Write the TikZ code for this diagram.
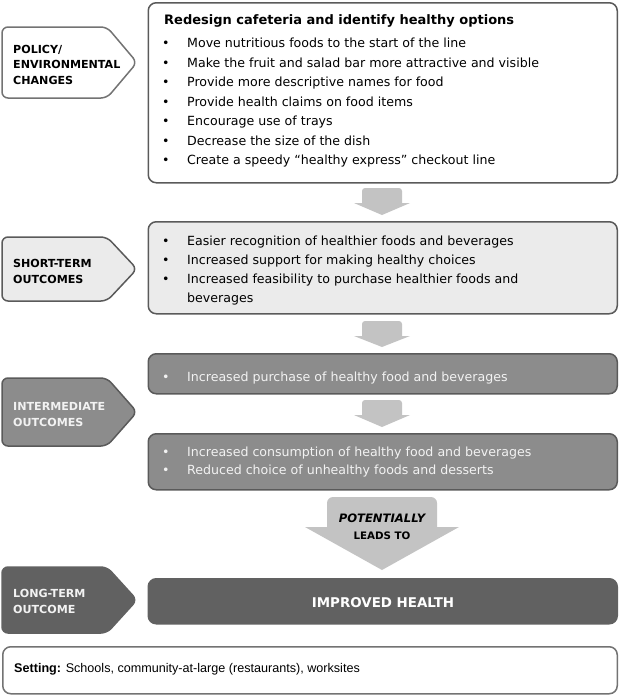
\documentclass[tikz,border=0pt]{standalone}
\usepackage{fontspec}
\setmainfont{DejaVu Sans}
\newfontfamily\arialfont{Liberation Sans}
\definecolor{bordergray}{HTML}{5A5A5A}
\definecolor{lightfill}{HTML}{EBEBEB}
\definecolor{midfill}{HTML}{8C8C8C}
\definecolor{darkfill}{HTML}{616161}
\definecolor{arrowgray}{HTML}{C3C3C3}
\definecolor{lighttext}{HTML}{F2F2F2}
\begin{document}
\begin{tikzpicture}[x=1pt,y=-1pt,
  frame/.style={draw=bordergray, line width=1.5pt, rounded corners=8pt, minimum width=469pt, anchor=north west, inner sep=0pt},
  tag/.style={draw=bordergray, line width=1.5pt, rounded corners=6pt},
  tagtext/.style={anchor=base west, inner sep=0pt, font=\fontsize{11.1}{13}\selectfont\bfseries},
  item/.style={anchor=base west, inner sep=0pt, font=\fontsize{12.6}{15}\selectfont},
  bul/.style={anchor=base west, inner sep=0pt, font=\fontsize{12.6}{15}\selectfont},
  arrowfill/.style={fill=arrowgray}]
\useasboundingbox (0,0) rectangle (620,696);

% ---------- boxes ----------
\node[frame, fill=white, minimum height=180pt] (box1) at (147.5,2) {};
\node[frame, fill=lightfill, minimum height=92pt] (box2) at (147.5,221) {};
\node[frame, fill=midfill, minimum height=40pt] (box3) at (147.5,353) {};
\node[frame, fill=midfill, minimum height=56pt] (box4) at (147.5,433) {};
\node[frame, fill=darkfill, draw=darkfill, minimum height=45pt] (box5) at (147.5,578) {};
\node[frame, draw=bordergray!85, fill=white, minimum width=614.5pt, minimum height=47pt] (setting) at (2,646) {};

% ---------- left tags ----------
\draw[tag, fill=white, draw=bordergray!85] (2,27) -- (107,27) -- (137,62.5) -- (107,98) -- (2,98) -- cycle;
\draw[tag, fill=lightfill] (2,237) -- (107,237) -- (137,269) -- (107,301) -- (2,301) -- cycle;
\draw[tag, fill=midfill] (2,378) -- (107,378) -- (137,412) -- (107,446) -- (2,446) -- cycle;
\draw[tag, fill=darkfill, draw=darkfill] (2,567) -- (107,567) -- (137,600) -- (107,633) -- (2,633) -- cycle;

\node[tagtext] (t1a) at (13,53) {POLICY/};
\node[tagtext] (t1b) at (13,68.5) {ENVIRONMENTAL};
\node[tagtext] (t1c) at (13,84) {CHANGES};
\node[tagtext] (t2a) at (13,267) {SHORT-TERM};
\node[tagtext] (t2b) at (13,283) {OUTCOMES};
\node[tagtext, text=lighttext] (t3a) at (13,410) {INTERMEDIATE};
\node[tagtext, text=lighttext] (t3b) at (13,426) {OUTCOMES};
\node[tagtext, text=lighttext] (t4a) at (13,597) {LONG-TERM};
\node[tagtext, text=lighttext] (t4b) at (13,613) {OUTCOME};

% ---------- arrows ----------
\fill[arrowfill] (362,203) [rounded corners=3pt]-- (362,188) -- (402,188) [sharp corners]-- (402,203) -- (410,203) -- (382,215) -- (354,203) -- cycle;
\fill[arrowfill] (362,336) [rounded corners=3pt]-- (362,321) -- (402,321) [sharp corners]-- (402,336) -- (410,336) -- (382,347) -- (354,336) -- cycle;
\fill[arrowfill] (362,415) [rounded corners=3pt]-- (362,400) -- (402,400) [sharp corners]-- (402,415) -- (410,415) -- (382,427) -- (354,415) -- cycle;
\fill[arrowfill] (327,527) [rounded corners=6pt]-- (327,497) -- (437,497) [sharp corners]-- (437,527) -- (459,527) -- (382,570) -- (305,527) -- cycle;
\node[inner sep=0pt, anchor=base, font=\fontsize{11.6}{13}\selectfont\bfseries\itshape] (pot) at (382,522) {POTENTIALLY};
\node[inner sep=0pt, anchor=base, font=\fontsize{10.3}{13}\selectfont\bfseries] (leads) at (382,539) {LEADS TO};

% ---------- box 1 text ----------
\node[item, font=\fontsize{13}{15}\selectfont\bfseries] (title) at (164,24.5) {Redesign cafeteria and identify healthy options};
\foreach \i/\t in {0/Move nutritious foods to the start of the line,
                   1/Make the fruit and salad bar more attractive and visible,
                   2/Provide more descriptive names for food,
                   3/Provide health claims on food items,
                   4/Encourage use of trays,
                   5/Decrease the size of the dish,
                   6/Create a speedy “healthy express” checkout line}{
  \node[bul] (b1bul\i) at (162,47.5+19.5*\i) {•};
  \node[item] (b1item\i) at (187,47.5+19.5*\i) {\t};
}

% ---------- box 2 text ----------
\foreach \i/\t in {0/Easier recognition of healthier foods and beverages,
                   1/Increased support for making healthy choices,
                   2/Increased feasibility to purchase healthier foods and}{
  \node[bul] (b2bul\i) at (162,245.5+19*\i) {•};
  \node[item] (b2item\i) at (187,245.5+19*\i) {\t};
}
\node[item] (b2item3) at (187,302.5) {beverages};

% ---------- box 3 / 4 text ----------
\node[bul, text=lighttext] (b3bul) at (162,381.5) {•};
\node[item, text=lighttext] (b3item) at (187,381.5) {Increased purchase of healthy food and beverages};
\node[bul, text=lighttext] (b4bul0) at (162,456.5) {•};
\node[item, text=lighttext] (b4item0) at (187,456.5) {Increased consumption of healthy food and beverages};
\node[bul, text=lighttext] (b4bul1) at (162,474.5) {•};
\node[item, text=lighttext] (b4item1) at (187,474.5) {Reduced choice of unhealthy foods and desserts};

% ---------- box 5 ----------
\node[inner sep=0pt, anchor=base, text=white, font=\fontsize{13.4}{15}\selectfont\bfseries] (health) at (383,607) {IMPROVED HEALTH};

% ---------- setting ----------
\node[inner sep=0pt, anchor=base west, font=\arialfont\fontsize{12.6}{15}\selectfont] (settext) at (14,672.5) {\textbf{Setting:} Schools, community-at-large (restaurants), worksites};
\end{tikzpicture}
\end{document}
